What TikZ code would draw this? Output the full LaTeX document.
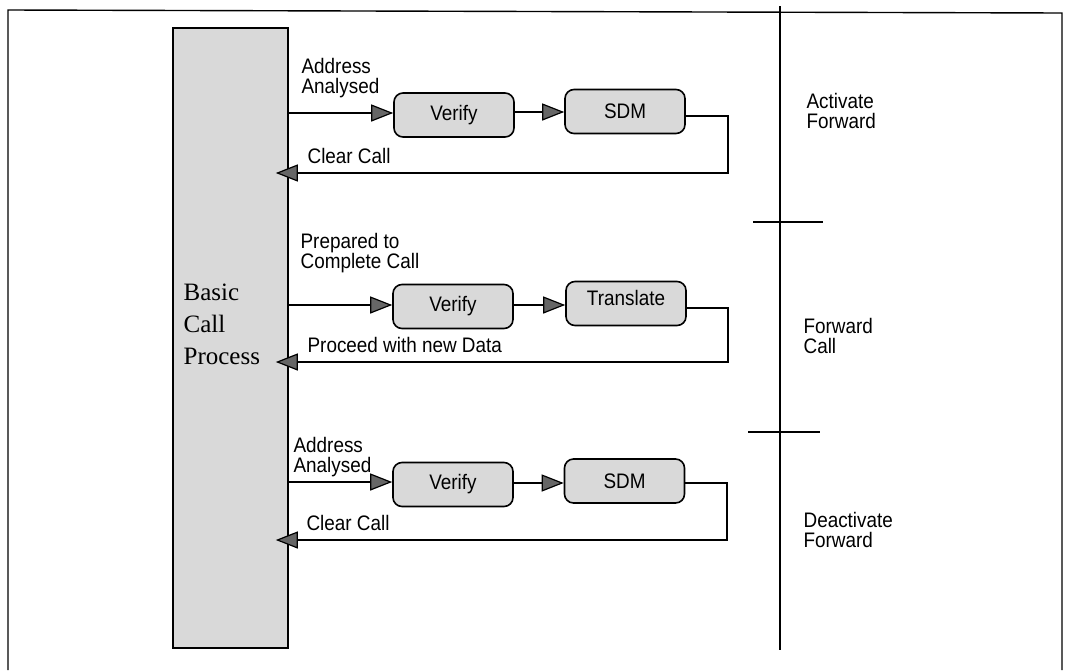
\documentclass[tikz,border=0pt]{standalone}
\usepackage{fontspec}
\setmainfont{Liberation Sans}[FakeStretch=0.9]
\newfontfamily\bcpfont{Liberation Serif}
\usetikzlibrary{arrows.meta}

\begin{document}
\begin{tikzpicture}[x=1pt, y=-1pt, line width=1.2pt,
    every node/.style={font=\fontsize{21}{20}\selectfont, inner sep=0pt},
    stage/.style={draw, rounded corners=9pt, fill=black!15, line width=1.6pt,
                  minimum width=120pt, minimum height=44pt},
    lbl/.style={anchor=west, align=left},
    flow/.style={-{Triangle[length=22pt, width=17pt, fill=black!60]}}]
    \useasboundingbox (0,0) rectangle (1065,670);

    % frame and phase divider
    \draw[line width=1.4pt] (8,670) -- (8,10) -- (1062,13) -- (1062,670);
    \draw[line width=1.6pt] (780,6) -- (780,650);
    \draw (753,222) -- (823,222);
    \draw (748,432) -- (820,432);

    % basic call process
    \node[draw, fill=black!15, line width=1.6pt, minimum width=115pt, minimum height=620pt] (bcp) at (230.5,338) {};
    \node[lbl, font=\bcpfont\fontsize{25}{32}\selectfont] (bcptext) at (183,324) {Basic\\Call\\Process};

    % activate forward
    \node[stage] (ver1) at (454,115) {Verify};
    \node[stage] (sdm1) at (625,111.5) {SDM};
    \coordinate (r1a) at (728,116);
    \coordinate (r1b) at (728,173);
    \node[lbl] (aa1) at (301,78) {Address\\Analysed};
    \node[lbl] (cc1) at (307,156) {Clear Call};
    \node[lbl] (af) at (806,111) {Activate\\Forward};

    % forward call
    \node[stage] (ver2) at (453,306.5) {Verify};
    \node[stage, text depth=12pt] (tr2) at (626,303.5) {Translate};
    \coordinate (r2a) at (728,308);
    \coordinate (r2b) at (728,362);
    \node[lbl] (pc2) at (300,253) {Prepared to\\Complete Call};
    \node[lbl] (pd2) at (307,345) {Proceed with new Data};
    \node[lbl] (fc) at (803,336) {Forward\\Call};

    % deactivate forward
    \node[stage] (ver3) at (453,484.5) {Verify};
    \node[stage] (sdm3) at (624.5,481) {SDM};
    \coordinate (r3a) at (727,483);
    \coordinate (r3b) at (727,540);
    \node[lbl] (aa3) at (293,457.5) {Address\\Analysed};
    \node[lbl] (cc3) at (306,523) {Clear Call};
    \node[lbl] (df) at (803,530) {Deactivate\\Forward};

    % draw activate forward
    \draw[flow] (bcp.east |- 0,113) -- (ver1.west |- 0,113);
    \draw[flow] (ver1.east |- 0,112) -- (sdm1.west |- 0,112);
    \draw[flow] (sdm1.east |- r1a) -- (r1a) -- (r1b) -- ([xshift=-13pt]bcp.east |- r1b);

    % draw forward call
    \draw[flow] (bcp.east |- 0,305) -- (ver2.west |- 0,305);
    \draw[flow] (ver2.east |- 0,305) -- (tr2.west |- 0,305);
    \draw[flow] (tr2.east |- r2a) -- (r2a) -- (r2b) -- ([xshift=-13pt]bcp.east |- r2b);

    % draw deactivate forward
    \draw[flow] (bcp.east |- 0,482) -- (ver3.west |- 0,482);
    \draw[flow] (ver3.east |- 0,483) -- (sdm3.west |- 0,483);
    \draw[flow] (sdm3.east |- r3a) -- (r3a) -- (r3b) -- ([xshift=-13pt]bcp.east |- r3b);
\end{tikzpicture}
\end{document}
